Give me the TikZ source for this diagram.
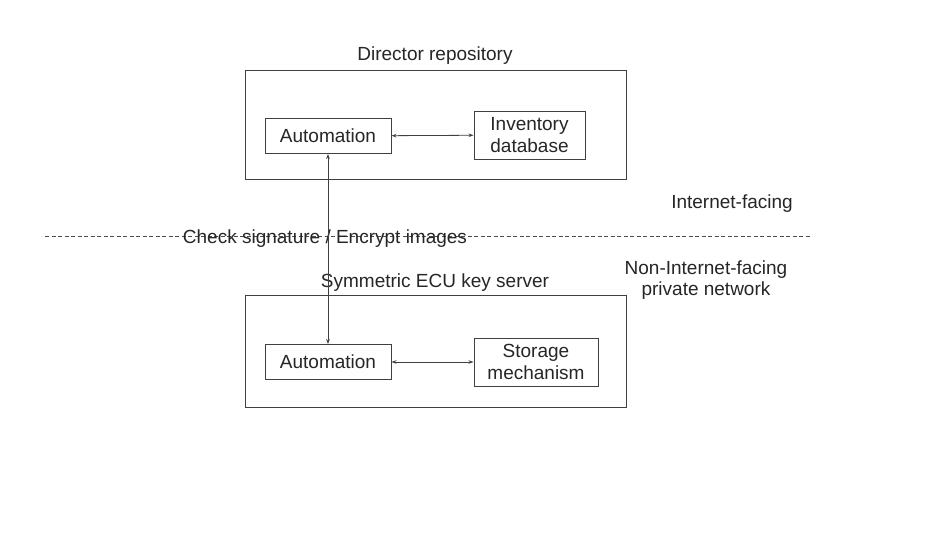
\documentclass[tikz,border=0pt]{standalone}
\usepackage{fontspec}
\setmainfont{Liberation Sans}
\usetikzlibrary{arrows.meta}
\begin{document}
\begin{tikzpicture}[x=1pt,y=-1pt]
\tikzstyle{txt} = [font=\fontsize{19}{21.5}\selectfont,text=black!85,align=center];
\tikzstyle{outer}=[draw=black!75,line width=0.9pt];
\tikzstyle{box}=[txt,draw=black!75,line width=0.9pt,inner sep=0pt];
\tikzstyle{link}=[{Stealth[length=5pt,width=3.5pt]}-{Stealth[length=5pt,width=3.5pt]},draw=black!75,line width=0.8pt];
\useasboundingbox (0,0) rectangle (938,535);
\fill [white] (0,0) rectangle (938,535);

% director repository
\draw [outer] (245,70) rectangle (626,179);
\node [txt] (t1) at (435,55.5) {Director repository};
\node [box,minimum width=126pt,minimum height=35pt] (a1) at (328,136) {Automation};
\node [box,minimum width=111pt,minimum height=48pt] (inv) at (529.5,135) {Inventory\\database};

% key server
\draw [outer] (245,295) rectangle (626,407);
\node [txt] (t2) at (435,282.5) {Symmetric ECU key server};
\node [box,minimum width=126pt,minimum height=35pt] (a2) at (328,362) {Automation};
\node [box,minimum width=124pt,minimum height=48pt] (sto) at (536,362) {Storage\\mechanism};

\draw [black!70,line width=0.7pt,dash pattern=on 4pt off 2.5pt] (45,236) -- (812,236);
\node [txt] (chk) at (325,239) {Check signature / Encrypt images};
\node [txt] (inet) at (732,203.5) {Internet-facing};
\node [txt] (priv) at (706,280) {Non-Internet-facing\\private network};

\draw [link] (a1) -- (inv);
\draw [link] (a2) -- (sto);
\draw [link] (a1) -- (a2);
\end{tikzpicture}
\end{document}
